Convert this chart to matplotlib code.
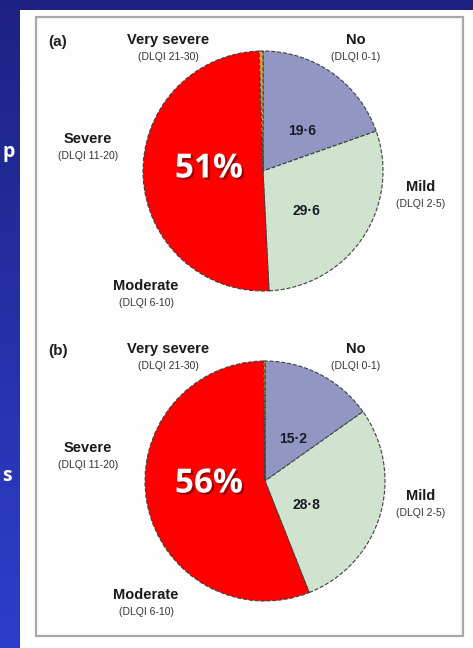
import matplotlib
matplotlib.use('Agg')
import matplotlib.pyplot as plt
import matplotlib.patheffects as pe
from matplotlib.patches import Rectangle
import numpy as np

# Share of patients per DLQI band (%), order: No, Mild, Moderate+Severe, Very severe
categories = ['No', 'Mild', 'Moderate/Severe', 'Very severe']
values_a = [19.6, 29.6, 50.3, 0.5]
values_b = [15.2, 28.8, 55.8, 0.2]
inner_labels_a = ['19·6', '29·6']
inner_labels_b = ['15·2', '28·8']

band_names = ['Very severe', 'No', 'Severe', 'Mild', 'Moderate']
band_ranges = ['(DLQI 21-30)', '(DLQI 0-1)', '(DLQI 11-20)', '(DLQI 2-5)', '(DLQI 6-10)']

slice_colors = ['#9197c2', '#cfe3cf', '#ff0000', '#e0a040']

W, H = 473, 648
fig = plt.figure(figsize=(W / 100, H / 100), dpi=100)


def fx(x):
    return x / W


def fy(y):
    return 1 - y / H


# slide background: blue gradient
bg = fig.add_axes([0, 0, 1, 1])
top = np.array([0x1d, 0x22, 0x82]) / 255
bot = np.array([0x2e, 0x3e, 0xcc]) / 255
t = np.linspace(0, 1, 256)[:, None]
grad = (top * (1 - t) + bot * t)[:, None, :]
bg.imshow(grad, aspect='auto', extent=[0, 1, 0, 1])
bg.set_xlim(0, 1)
bg.set_ylim(0, 1)
bg.axis('off')

# white panel with the grey-bordered figure box
bg.add_patch(Rectangle((fx(20), 0), 1 - fx(20), fy(10), transform=bg.transAxes,
                       facecolor='white', edgecolor='none', zorder=2))
bg.add_patch(Rectangle((fx(36), fy(636)), fx(463) - fx(36), fy(17) - fy(636),
                       transform=bg.transAxes, facecolor='#fdfdfd',
                       edgecolor='#a8a8a8', linewidth=1.6, zorder=3))

# slide text at the left edge
for ytxt, ch in [(152, 'p'), (476, 's')]:
    fig.text(fx(2), fy(ytxt), ch, ha='left', va='center', color='white',
             fontsize=14, fontweight='bold', family='Open Sans')


def draw_panel(tag, values, inner, big, cx, cy, dy, inner_pos):
    r = 120
    ax = fig.add_axes([fx(cx - r), fy(cy + r), 2 * r / W, 2 * r / H])
    ax.pie(values, colors=slice_colors, startangle=90, counterclock=False,
           radius=1.0,
           wedgeprops=dict(edgecolor='#404040', linewidth=0.8, linestyle='--'))
    ax.set_xlim(-1, 1)
    ax.set_ylim(-1, 1)
    ax.set_aspect('auto')
    ax.axis('off')

    fig.text(fx(58), fy(42 + dy), tag, ha='center', va='center',
             fontsize=11, fontweight='bold', family='Liberation Sans', color='#222222')

    name_pos = [(168, 40), (356, 40), (88, 139), (421, 187), (146, 286)]
    for (x, y), name, rng in zip(name_pos, band_names, band_ranges):
        fig.text(fx(x), fy(y + dy), name, ha='center', va='center', fontsize=10.5,
                 fontweight='bold', family='Liberation Sans', color='#1a1a1a')
        fig.text(fx(x), fy(y + 17 + dy), rng, ha='center', va='center',
                 fontsize=7.5, family='Liberation Sans', color='#333333')

    for (x, y), lab in zip(inner_pos, inner):
        fig.text(fx(x), fy(y), lab, ha='center', va='center', fontsize=10,
                 fontweight='bold', family='Liberation Sans', color='#1a1a2a')

    fig.text(fx(209), fy(cy - 2 + (5 if dy else 0)), big, ha='center', va='center',
             fontsize=24, fontweight='bold', family='Open Sans', color='white',
             path_effects=[pe.withSimplePatchShadow(offset=(1.5, -1.5),
                                                    shadow_rgbFace='#600000', alpha=0.6)])


pct_a = f"{round(values_a[2] + values_a[3])}%"
pct_b = f"{round(values_b[2] + values_b[3])}%"

draw_panel('(a)', values_a, inner_labels_a, pct_a, 263, 171, 0,
           [(302, 131), (306, 211)])
draw_panel('(b)', values_b, inner_labels_b, pct_b, 265, 481, 309,
           [(293, 439), (306, 505)])

fig.savefig('out.png', dpi=100)
